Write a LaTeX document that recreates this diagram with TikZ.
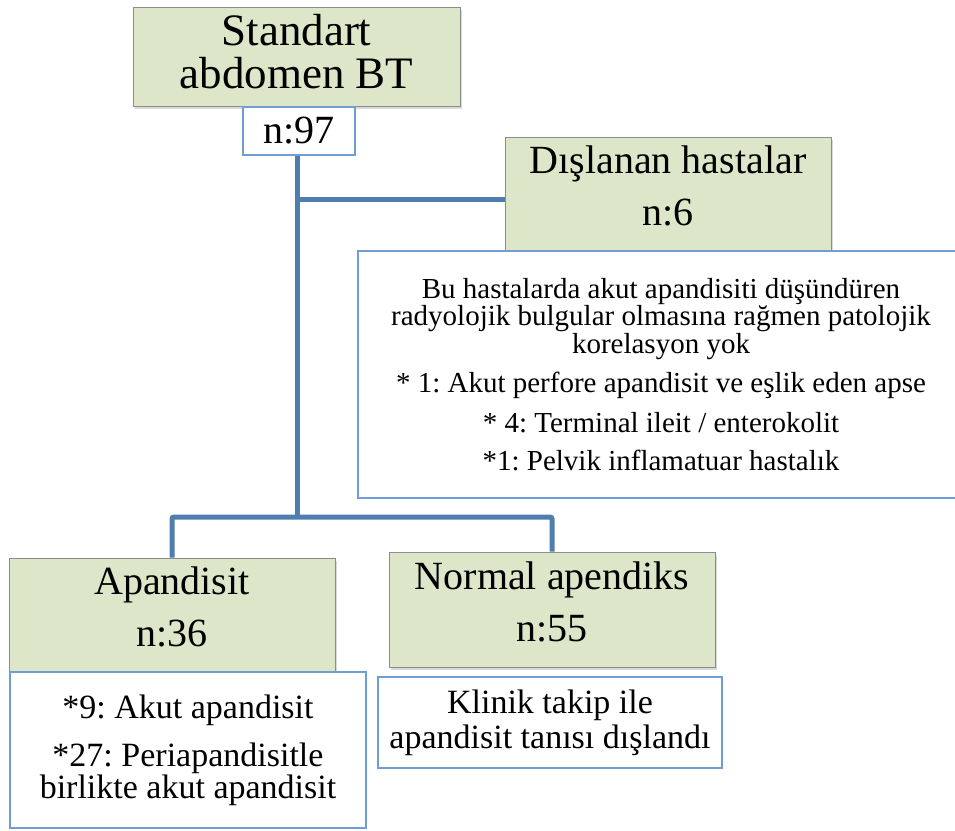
\documentclass[tikz,border=0pt]{standalone}
\usepackage{fontspec}
\setmainfont{Liberation Serif}
\usetikzlibrary{shadows}
\definecolor{boxgreen}{RGB}{221,230,200}
\definecolor{boxgray}{RGB}{140,140,140}
\definecolor{boxblue}{RGB}{112,158,212}
\definecolor{linkblue}{RGB}{79,125,173}
\tikzset{
  headbox/.style={draw=boxgray, fill=boxgreen, line width=1pt, inner sep=0pt, align=center,
    text depth=16pt, drop shadow={shadow xshift=1.5pt, shadow yshift=-2.5pt, opacity=0.3}},
  notebox/.style={draw=boxblue, fill=white, line width=1.5pt, inner sep=0pt, align=center},
  link/.style={draw=linkblue, line width=5pt, rounded corners=2pt}
}
\newcommand{\headfont}{\fontsize{40}{40}\selectfont}
\newcommand{\notefont}{\fontsize{34}{32}\selectfont}
\frenchspacing

\begin{document}
\begin{tikzpicture}[x=1pt,y=1pt]
  \useasboundingbox (0,0) rectangle (955,-830);
  \node[headbox, text depth=10pt, minimum width=327pt, minimum height=99pt, font=\fontsize{45}{43}\selectfont] (top) at (296.5,-56.5) {Standart\\abdomen BT};
  \node[headbox, minimum width=326pt, minimum height=113pt, font=\headfont] (excl) at (668,-193.5) {Dışlanan hastalar\\[12pt]n:6};
  \node[headbox, minimum width=326pt, minimum height=114pt, font=\headfont] (apand) at (172,-615) {Apandisit\\[12pt]n:36};
  \node[headbox, minimum width=326pt, minimum height=115pt, font=\headfont] (normal) at (552,-609.5) {Normal apendiks\\[12pt]n:55};

  \node[notebox, minimum width=112pt, minimum height=48pt, font=\headfont] (n97) at (299,-131) {n:97};
  \node[notebox, minimum width=606pt, minimum height=247pt, font=\fontsize{29}{27.5}\selectfont] (exclnote) at (661,-374.5) {Bu hastalarda akut apandisiti düşündüren\\radyolojik bulgular olmasına rağmen patolojik\\korelasyon yok\\[12pt]* 1: Akut perfore apandisit ve eşlik eden apse\\[12pt]* 4: Terminal ileit / enterokolit\\[11pt]*1: Pelvik inflamatuar hastalık};
  \node[notebox, minimum width=356pt, minimum height=156pt, font=\notefont] (apandnote) at (188,-750) {*9: Akut apandisit\\[16pt]*27: Periapandisitle\\birlikte akut apandisit};
  \node[notebox, minimum width=344pt, minimum height=91pt, font=\fontsize{34}{35}\selectfont] (normalnote) at (550,-722.5) {Klinik takip ile\\apandisit tanısı dışlandı};

  \coordinate (branch) at (297,-199);
  \coordinate (split) at (297,-517);
  \draw[link] (n97.south -| split) -- (split);
  \draw[link] (branch) -- (branch -| excl.west);
  \draw[link] (apand.north) |- (split) -| (normal.north);
\end{tikzpicture}
\end{document}
